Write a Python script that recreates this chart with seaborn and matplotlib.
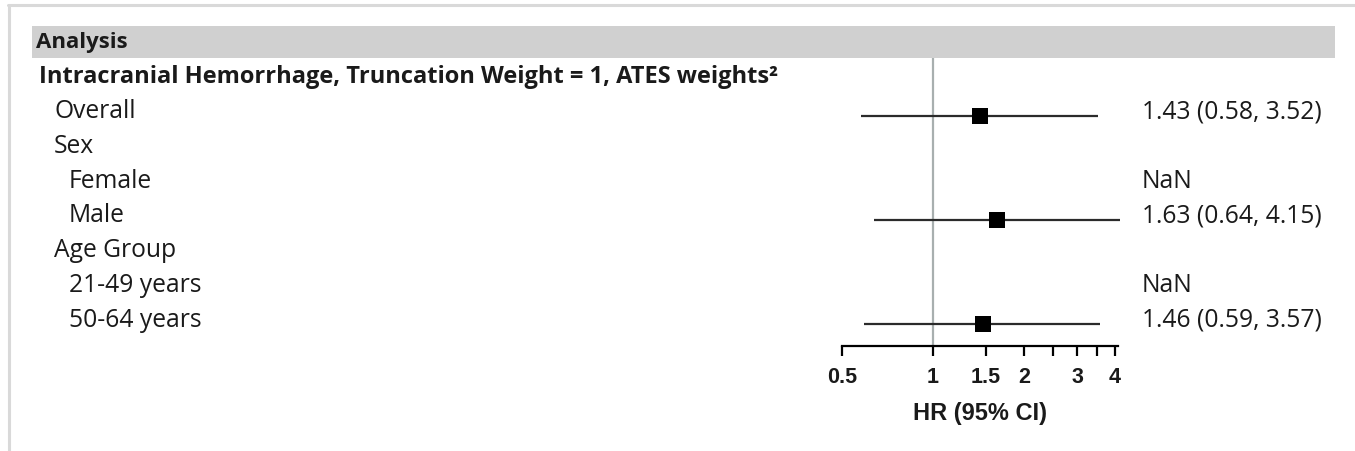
import numpy as np
import pandas as pd
import matplotlib
matplotlib.use("Agg")
import matplotlib.pyplot as plt
import matplotlib.transforms as mtrans
import seaborn as sns
from matplotlib.lines import Line2D
from matplotlib.patches import Rectangle
from matplotlib.ticker import FixedLocator, NullFormatter, FixedFormatter

# ---------------- data ----------------
header_label = "Analysis"
section_title = "Intracranial Hemorrhage, Truncation Weight = 1, ATES weights²"
row_labels = ["Overall", "Sex", "Female", "Male", "Age Group", "21-49 years", "50-64 years"]
row_levels = [1, 1, 2, 2, 1, 2, 2]
row_is_group = [False, True, False, False, True, False, False]
hr = [1.43, np.nan, np.nan, 1.63, np.nan, np.nan, 1.46]
ci_low = [0.58, np.nan, np.nan, 0.64, np.nan, np.nan, 0.59]
ci_high = [3.52, np.nan, np.nan, 4.15, np.nan, np.nan, 3.57]
major_ticks = [0.5, 1, 1.5, 2, 3, 4]
major_tick_labels = ["0.5", "1", "1.5", "2", "3", "4"]
minor_ticks = [2.5, 3.5]
x_label = "HR (95% CI)"

# ---------------- style ----------------
sns.set_theme(style="white")
plt.rcParams["font.family"] = ["Open Sans", "DejaVu Sans"]
TXT = "#1a1a1a"
AXFONT = ["Liberation Sans", "DejaVu Sans"]

W, H = 1355, 452
fig = plt.figure(figsize=(W / 100, H / 100), dpi=100)

def fx(px):
    return px / W

def fy(py):
    return 1 - py / H

# frame lines
fig.add_artist(Line2D([fx(8), fx(1355)], [fy(6), fy(6)], color="#d9d9d9", lw=2.2, transform=fig.transFigure))
fig.add_artist(Line2D([fx(9), fx(9)], [fy(6), fy(452)], color="#d9d9d9", lw=2.2, transform=fig.transFigure))

# header band
fig.add_artist(Rectangle((fx(32), fy(59)), fx(1335) - fx(32), fy(27) - fy(59),
                         transform=fig.transFigure, color="#d0d0d0", lw=0, zorder=0))

# main axes (forest plot)
ax_top_px, ax_bot_px = 27, 347
ax = fig.add_axes([fx(842), fy(ax_bot_px), fx(1118) - fx(842), fy(ax_top_px) - fy(ax_bot_px)])
ax.patch.set_alpha(0)

# rows: index 0 = header, 1 = section title, 2.. = data rows
row_px0, row_step = 47, 34.8
ymax = (ax_top_px - row_px0) / row_step
ymin = (ax_bot_px - row_px0) / row_step
ypos = np.arange(len(row_labels)) + 2

df = pd.DataFrame({"label": row_labels, "y": ypos, "hr": hr, "lo": ci_low, "hi": ci_high})
valid = df.dropna()

ax.set_xscale("log")
ax.set_xlim(0.5, 4.1)
ax.set_ylim(ymin, ymax)

# reference line at HR = 1
band_bottom = (59 - row_px0) / row_step
ax.vlines(1, band_bottom, ymin, color="#a8afaf", lw=1.6, zorder=1)

# CIs
ax.hlines(valid["y"], valid["lo"], valid["hi"], color="#2b2b2b", lw=1.6, zorder=2, clip_on=False)
sns.scatterplot(data=valid, x="hr", y="y", marker="s", s=135, color="black",
                edgecolor="black", linewidth=0, ax=ax, zorder=3, clip_on=False, legend=False)

# axis styling
for s in ["left", "right", "top"]:
    ax.spines[s].set_visible(False)
ax.spines["bottom"].set_color("black")
ax.spines["bottom"].set_linewidth(1.6)
ax.set_yticks([])
ax.set_ylabel("")
ax.xaxis.set_major_locator(FixedLocator(major_ticks))
ax.xaxis.set_major_formatter(FixedFormatter(major_tick_labels))
ax.xaxis.set_minor_locator(FixedLocator(minor_ticks))
ax.xaxis.set_minor_formatter(NullFormatter())
ax.tick_params(axis="x", which="both", direction="out", length=7.5, width=1.6,
               color="black", bottom=True, pad=7)
for lab in ax.get_xticklabels():
    lab.set_fontweight("bold")
    lab.set_fontsize(15.5)
    lab.set_family(AXFONT)
    lab.set_color(TXT)
ax.set_xlabel(x_label, fontsize=17, fontweight="bold", color=TXT, labelpad=10, family=AXFONT)

# left column texts (baseline sits just below the row line)
tr = mtrans.blended_transform_factory(fig.transFigure, ax.transData)
tr = mtrans.offset_copy(tr, fig=fig, x=0, y=-1.5, units="dots")
ax.text(fx(36), 0, header_label, transform=tr, fontsize=16, fontweight="bold", color=TXT, va="baseline")
ax.text(fx(39), 1, section_title, transform=tr, fontsize=17, fontweight="bold", color=TXT, va="baseline")
indent_px = {1: 54, 2: 69}
for lab, lev, y in zip(row_labels, row_levels, ypos):
    ax.text(fx(indent_px[lev]), y, lab, transform=tr, fontsize=17.7, color=TXT, va="baseline")

# right column texts
for g, h, lo, hi, y in zip(row_is_group, hr, ci_low, ci_high, ypos):
    if g:
        continue
    s = "NaN" if np.isnan(h) else f"{h:.2f} ({lo:.2f}, {hi:.2f})"
    ax.text(fx(1142), y, s, transform=tr, fontsize=17.7, color=TXT, va="baseline")

fig.savefig("out.png", dpi=100)
